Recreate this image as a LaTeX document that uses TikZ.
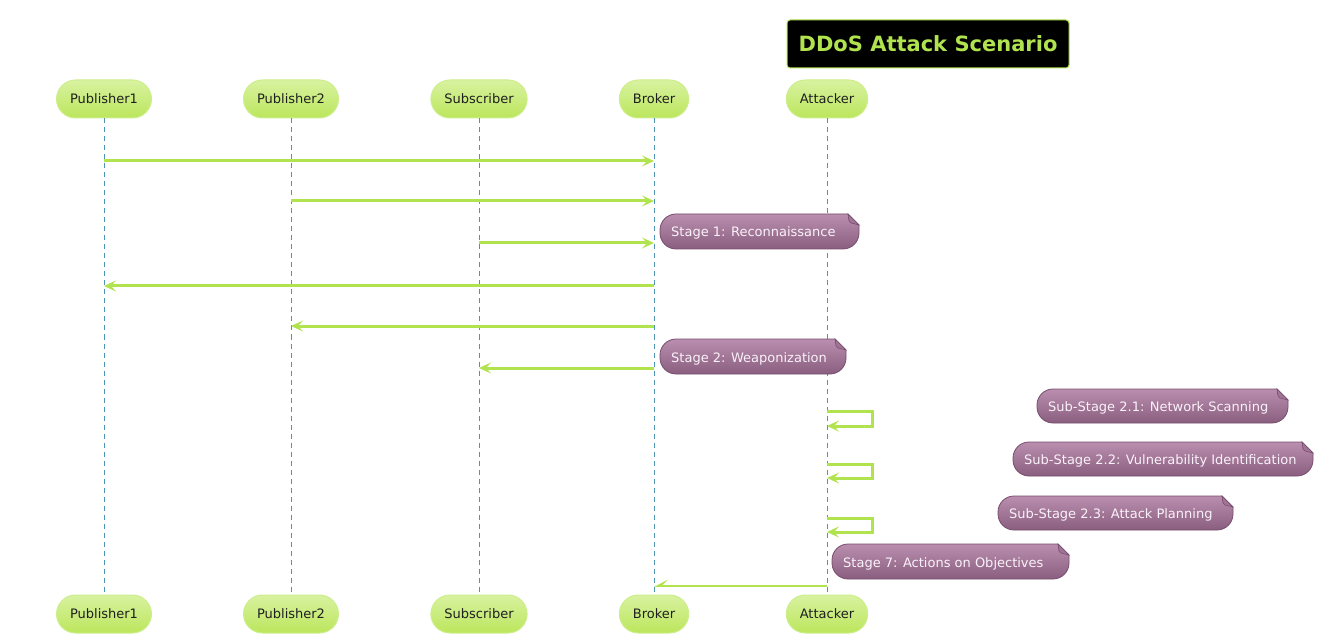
\documentclass[tikz,border=0pt]{standalone}
\usepackage{fontspec}
\setmainfont{DejaVu Sans}
\usetikzlibrary{arrows.meta}
\definecolor{grn}{RGB}{176,227,77}
\definecolor{parttop}{RGB}{216,242,160}
\definecolor{partbot}{RGB}{188,230,92}
\definecolor{partborder}{RGB}{204,238,140}
\definecolor{lifeblue}{RGB}{80,148,180}
\definecolor{notetop}{RGB}{186,142,174}
\definecolor{notebot}{RGB}{138,94,126}
\definecolor{noteborder}{RGB}{118,76,108}
\definecolor{notefold}{RGB}{160,116,148}
\definecolor{notetxt}{RGB}{250,242,250}
\tikzset{
  part/.style={draw=partborder, line width=1pt, rounded corners=19pt,
    top color=parttop, bottom color=partbot, minimum height=38pt,
    inner xsep=13.5pt, inner ysep=0pt, text height=10pt, text depth=1pt,
    font=\fontsize{13}{15}\selectfont, text=black!88},
  life/.style={draw=lifeblue, dash pattern=on 5pt off 4pt, line width=0.8pt},
  msg/.style={draw=grn, line width=3pt, -{Stealth[length=12pt,width=11pt,inset=5pt]}},
  lastmsg/.style={draw=grn, line width=1.6pt, -{Stealth[harpoon,swap,length=12pt,width=12pt,inset=6pt]}},
  notetext/.style={font=\fontsize{13}{15}\selectfont, text=notetxt, inner sep=0pt, anchor=west,
    text height=9pt, text depth=2pt},
  notebg/.style={draw=noteborder, line width=0.8pt, top color=notetop, bottom color=notebot},
  titlebox/.style={draw=grn, line width=1pt, fill=black, rounded corners=3pt,
    minimum width=282pt, minimum height=48pt, text=grn,
    font=\fontsize{21}{25}\bfseries\selectfont}
}
\newcommand\notebox[6]{%
  \shade[notebg] ({#4-11},#3) -- (#4,{#3+11}) -- (#4,{#5-16})
    .. controls (#4,{#5-7.2}) and ({#4-7.2},#5) .. ({#4-16},#5)
    -- ({#2+16},#5) .. controls ({#2+7.2},#5) and (#2,{#5-7.2}) .. (#2,{#5-16})
    -- (#2,{#3+16}) .. controls (#2,{#3+7.2}) and ({#2+7.2},#3) .. ({#2+16},#3) -- cycle;
  \filldraw[fill=notefold, draw=noteborder, line width=0.6pt] ({#4-11},#3) .. controls ({#4-10},{#3+8}) .. ({#4-8},{#3+9}) -- (#4,{#3+11}) -- cycle;
  \node[notetext] (#1) at ({#2+11},{(#3+#5)/2+2}) {#6};
}
\begin{document}
\begin{tikzpicture}[x=1pt,y=-1pt]
\useasboundingbox (0,0) rectangle (1325,644);
% participants
\node[part] (p1t) at (104,99) {Publisher1};
\node[part] (p2t) at (291,99) {Publisher2};
\node[part] (sbt) at (479,99) {Subscriber};
\node[part] (brt) at (654,99) {Broker};
\node[part] (att) at (827,99) {Attacker};
\node[part] (p1b) at (104,614) {Publisher1};
\node[part] (p2b) at (291,614) {Publisher2};
\node[part] (sbb) at (479,614) {Subscriber};
\node[part] (brb) at (654,614) {Broker};
\node[part] (atb) at (827,614) {Attacker};
% lifelines
\draw[life] (p1t.south) -- (p1b.north);
\draw[life] (p2t.south) -- (p2b.north);
\draw[life] (sbt.south) -- (sbb.north);
\draw[life] (brt.south) -- (brb.north);
\draw[life] (att.south) -- (atb.north);
% title
\node[titlebox] (title) at (928,44) {DDoS Attack Scenario};
% message points
\coordinate (m1a) at (104,161); \coordinate (m1b) at (654,161);
\coordinate (m2a) at (291,201); \coordinate (m2b) at (654,201);
\coordinate (m3a) at (479,243); \coordinate (m3b) at (654,243);
\coordinate (m4a) at (654,286); \coordinate (m4b) at (104,286);
\coordinate (m5a) at (654,326); \coordinate (m5b) at (291,326);
\coordinate (m6a) at (654,368); \coordinate (m6b) at (479,368);
\coordinate (s1a) at (827,411); \coordinate (s1b) at (827,426);
\coordinate (s2a) at (827,464); \coordinate (s2b) at (827,478);
\coordinate (s3a) at (827,518); \coordinate (s3b) at (827,532);
\coordinate (m7a) at (827,586); \coordinate (m7b) at (654,586);
% notes
\notebox{n1}{660}{214}{859}{249}{Stage 1: Reconnaissance}
\notebox{n2}{660}{339}{846}{374}{Stage 2: Weaponization}
\notebox{n3}{1037}{389}{1288}{423}{Sub-Stage 2.1: Network Scanning}
\notebox{n4}{1013}{442}{1313}{476}{Sub-Stage 2.2: Vulnerability Identification}
\notebox{n5}{998}{496}{1233}{530}{Sub-Stage 2.3: Attack Planning}
\notebox{n6}{832}{544}{1069}{579}{Stage 7: Actions on Objectives}
% messages
\draw[msg] (m1a) -- (m1b);
\draw[msg] (m2a) -- (m2b);
\draw[msg] (m3a) -- (m3b);
\draw[msg] (m4a) -- (m4b);
\draw[msg] (m5a) -- (m5b);
\draw[msg] (m6a) -- (m6b);
\draw[msg] (s1a) -- ++(45,0) |- (s1b);
\draw[msg] (s2a) -- ++(45,0) |- (s2b);
\draw[msg] (s3a) -- ++(45,0) |- (s3b);
\draw[lastmsg] (m7a) -- (m7b);
\end{tikzpicture}
\end{document}
